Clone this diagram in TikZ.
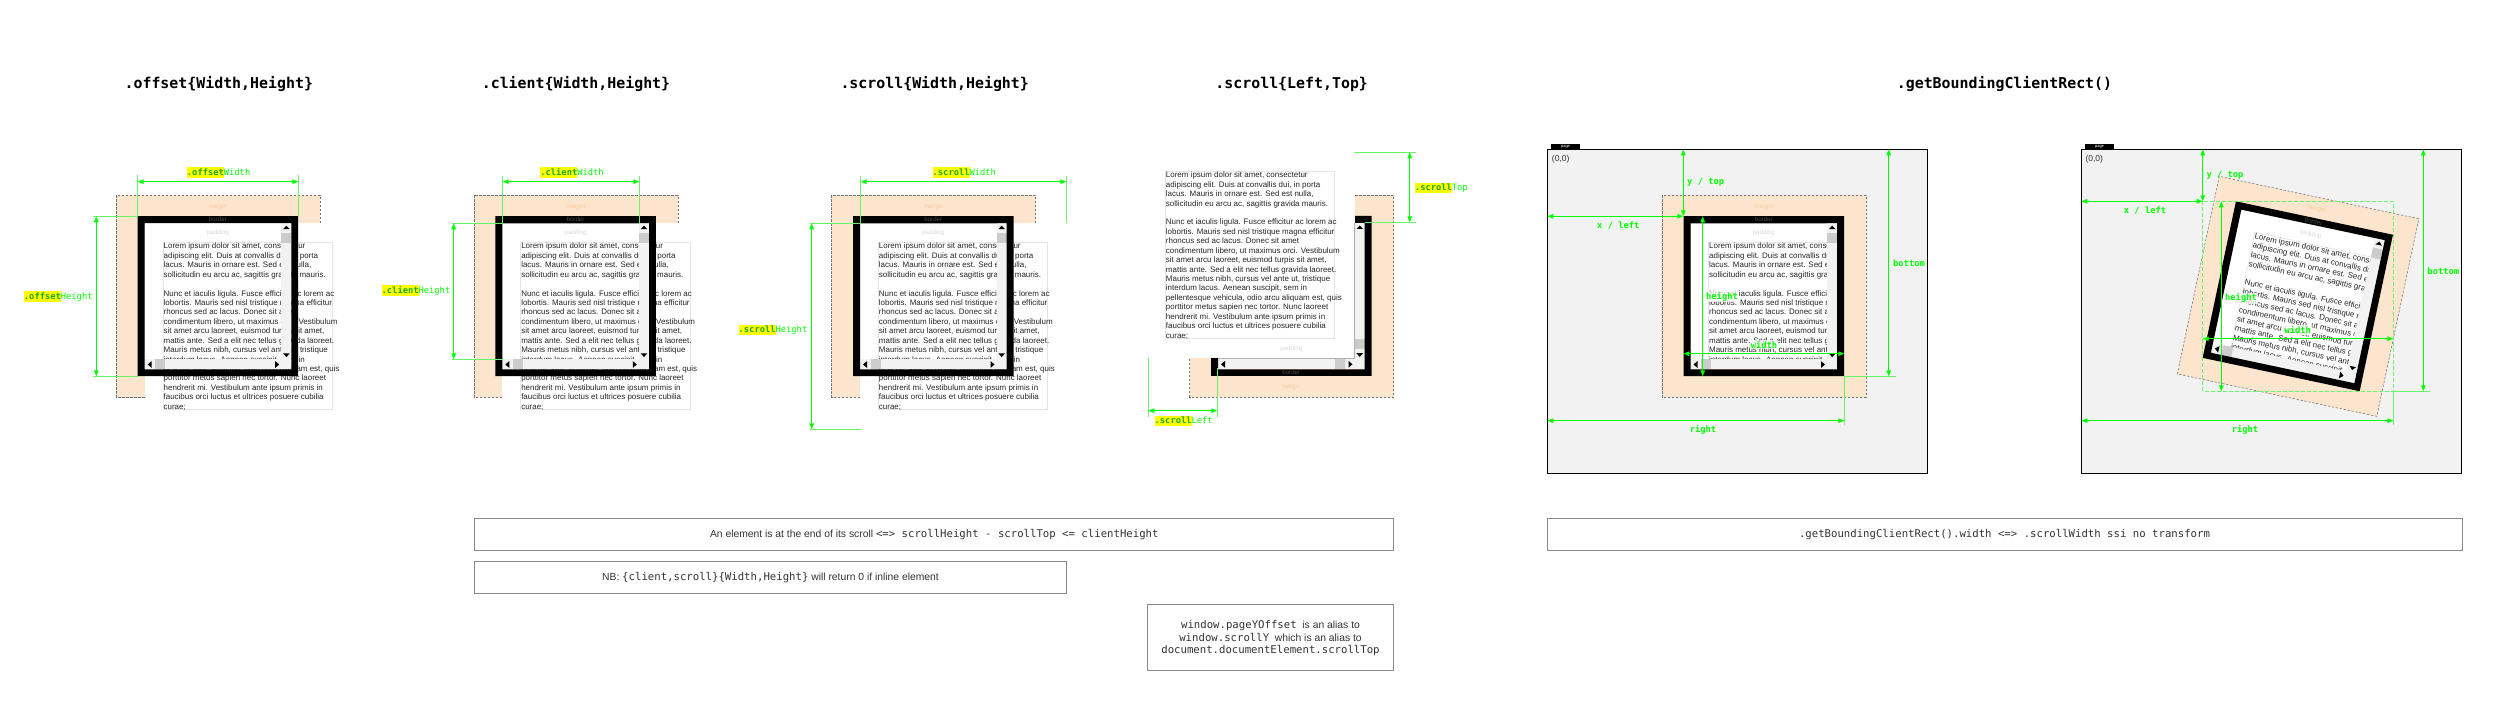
\documentclass[tikz,border=0pt]{standalone}
\usepackage{fontspec}
\setmainfont{Liberation Sans}
\newfontfamily\monof{DejaVu Sans Mono}
\usetikzlibrary{arrows.meta}
\definecolor{marginfill}{HTML}{FCE5CD}
\definecolor{marginlab}{HTML}{F9CB9C}
\definecolor{dimgreen}{HTML}{00FF00}
\definecolor{extgreen}{HTML}{66F566}
\definecolor{hlyellow}{HTML}{FFFF00}
\definecolor{hlgreen}{HTML}{1FA81F}
\definecolor{track}{HTML}{F2F2F2}
\definecolor{thumb}{HTML}{CCCCCC}
\definecolor{pagefill}{HTML}{F2F2F2}
\definecolor{notegray}{HTML}{888888}
\definecolor{ink}{HTML}{333333}
\setlength{\fboxsep}{0pt}
\tikzset{
  marginbox/.style={fill=marginfill,draw=black!55,line width=0.17pt,dash pattern=on 0.7pt off 0.5pt},
  textbox/.style={fill=white,draw=black!10,line width=0.2pt},
  lorem/.style={inner sep=0pt,align=left,text=black!85,font=\fontsize{2.39pt}{2.83pt}\selectfont},
  tinylab/.style={inner sep=0pt,font=\fontsize{1.85pt}{2.2pt}\selectfont},
  dimarrow/.style={draw=dimgreen,line width=0.3pt,{Triangle[length=1.8pt,width=1.35pt]}-{Triangle[length=1.8pt,width=1.35pt]}},
  dimext/.style={draw=extgreen,line width=0.22pt},
  titletext/.style={inner sep=0pt,font=\monof\bfseries\fontsize{4.47pt}{5pt}\selectfont},
  dimtext/.style={inner sep=0pt,anchor=west,text=dimgreen,font=\monof\fontsize{2.63pt}{3pt}\selectfont},
  boldtext/.style={inner sep=0.3pt,text=dimgreen,font=\monof\bfseries\fontsize{2.63pt}{3pt}\selectfont},
  halo/.style={boldtext,fill=white,fill opacity=0.75,text opacity=1},
  notebox/.style={draw=notegray,line width=0.3pt,fill=white},
  notetext/.style={inner sep=0pt,align=center,text=ink,font=\fontsize{3.1pt}{3.81pt}\selectfont},
  pagebox/.style={fill=pagefill,draw=black,line width=0.35pt},
  pagetab/.style={fill=black,inner sep=0pt,text=white,font=\fontsize{1.2pt}{1.4pt}\selectfont},
}
\newcommand{\nmono}[1]{{\monof\fontsize{3.2pt}{3.81pt}\selectfont #1}}
\newcommand{\loremtext}{Lorem ipsum dolor sit amet, consectetur\\
adipiscing elit. Duis at convallis dui, in porta\\
lacus. Mauris in ornare est. Sed est nulla,\\
sollicitudin eu arcu ac, sagittis gravida mauris.\\
\mbox{}\\
Nunc et iaculis ligula. Fusce efficitur ac lorem ac\\
lobortis. Mauris sed nisl tristique magna efficitur\\
rhoncus sed ac lacus. Donec sit amet\\
condimentum libero, ut maximus orci. Vestibulum\\
sit amet arcu laoreet, euismod turpis sit amet,\\
mattis ante. Sed a elit nec tellus gravida laoreet.\\
Mauris metus nibh, cursus vel ante ut, tristique\\
interdum lacus. Aenean suscipit, sem in\\
pellentesque vehicula, odio arcu aliquam est, quis\\
porttitor metus sapien nec tortor. Nunc laoreet\\
hendrerit mi. Vestibulum ante ipsum primis in\\
faucibus orci luctus et ultrices posuere cubilia\\
curae;}
% element parts, in coordinates local to the border box
\newcommand{\wMargin}{\path[marginbox] (-21.5,-21) rectangle (182.5,181);}
\newcommand{\wInside}{\fill[white] (7,7) rectangle (153.7,153.3);}
\newcommand{\wText}[3]{%
  \path[textbox] (#2,#3) rectangle ++(169.4,167);
  \node[lorem,anchor=north west] (#1-text) at (#2,#3) {\loremtext};}
\newcommand{\wBars}[2]{%
  \fill[track] (143.7,7) rectangle (153.7,143.3);
  \fill[track] (7,143.3) rectangle (153.7,153.3);
  \fill[thumb] (143.7,#1) rectangle ++(10,10);
  \fill[thumb] (#2,143.3) rectangle ++(10,10);
  \fill[black] (148.7,9.5) -- (152,13) -- (145.4,13) -- cycle;
  \fill[black] (148.7,140.9) -- (152,137.2) -- (145.4,137.2) -- cycle;
  \fill[black] (10,148.3) -- (14,144.9) -- (14,151.7) -- cycle;
  \fill[black] (141.5,148.3) -- (137.5,144.9) -- (137.5,151.7) -- cycle;}
\newcommand{\wRing}{\fill[black,even odd rule] (0,0) rectangle (160.5,160) (7,7) rectangle (153.7,153.3);}
\newcommand{\wLabels}[4]{%
  \node[tinylab,text=marginlab] (#1-marginlab) at (80.25,#2) {margin};
  \node[tinylab,text=black!70] (#1-borderlab) at (80.25,#3) {border};
  \node[tinylab,text=black!15] (#1-paddinglab) at (80.25,#4) {padding};}
% scrolled element whose overflow is shown
\newcommand{\wOpen}[4]{%
  \begin{scope}[shift={(#2,#3)}]
    \wMargin
    \fill[white] (7,7) rectangle (190,190);
    \wText{#1}{25.3}{26.3}
    \wBars{16.7}{17.7}
    \wRing
    \ifnum#4=1 \draw[black!35,line width=0.2pt] (7,7.2) -- (143.7,7.2);\fi
    \wLabels{#1}{-9.5}{3.6}{17}
  \end{scope}}
% element whose overflow is clipped
\newcommand{\wClosed}[1]{%
  \wMargin
  \wInside
  \begin{scope}
    \clip (7,7) rectangle (143.7,143.3);
    \wText{#1}{25}{26.3}
  \end{scope}
  \wBars{16.7}{17.7}
  \wRing
  \wLabels{#1}{-9.5}{3.6}{17}}
\newcommand{\dimline}[3]{\coordinate (#1a) at (#2); \coordinate (#1b) at (#3); \draw[dimarrow] (#1a) -- (#1b);}
\newcommand{\extline}[3]{\coordinate (#1a) at (#2); \coordinate (#1b) at (#3); \draw[dimext] (#1a) -- (#1b);}
\newcommand{\dimlab}[5]{\node[dimtext] (#1) at (#2,#3) {\colorbox{hlyellow}{\rule[-0.8pt]{0pt}{3.2pt}\textcolor{hlgreen}{\bfseries #4}}#5};}
\begin{document}
\begin{tikzpicture}[x=0.3pt,y=-0.3pt]
\useasboundingbox (0,0) rectangle (2500,712);
\fill[white] (0,0) rectangle (2500,712);
% titles
\node[titletext] (t1) at (218.8,84) {.offset\{Width,Height\}};
\node[titletext] (t2) at (576,84) {.client\{Width,Height\}};
\node[titletext] (t3) at (934.7,84) {.scroll\{Width,Height\}};
\node[titletext] (t4) at (1291.7,84) {.scroll\{Left,Top\}};
\node[titletext] (t5) at (2004.5,84) {.getBoundingClientRect()};
% offset
\wOpen{w1}{137.7}{216.2}{0}
\extline{o1}{137.7,175.3}{137.7,216.3}
\extline{o2}{298.3,175.3}{298.3,216.3}
\extline{o3}{93.3,216.3}{137.7,216.3}
\extline{o4}{93.3,376.3}{137.7,376.3}
\dimline{o5}{137.7,181.7}{298.3,181.7}
\dimline{o6}{96.3,216.3}{96.3,376.3}
\dimlab{l1}{186.3}{172.7}{.offset}{Width}
\dimlab{l2}{23.3}{296.7}{.offset}{Height}
% client
\wOpen{w2}{495.3}{216.2}{1}
\extline{c1}{502.7,175.7}{502.7,223.3}
\extline{c2}{639.3,175.7}{639.3,223.3}
\extline{c3}{451.7,223.3}{502.7,223.3}
\extline{c4}{451.7,359.3}{502.7,359.3}
\dimline{c5}{502.7,181.7}{639.3,181.7}
\dimline{c6}{453.7,223.3}{453.7,359.3}
\dimlab{l3}{539.7}{172.7}{.client}{Width}
\dimlab{l4}{381}{290.7}{.client}{Height}
% scroll size
\wOpen{w3}{853}{216.2}{1}
\extline{s1}{860.7,175.7}{860.7,223.3}
\extline{s2}{1066.3,175.7}{1066.3,223.3}
\extline{s3}{810,223.3}{860.7,223.3}
\extline{s4}{810,429.3}{860.7,429.3}
\dimline{s5}{860.7,181.7}{1066.3,181.7}
\dimline{s6}{811.7,223.3}{811.7,429.3}
\dimlab{l5}{932}{172.7}{.scroll}{Width}
\dimlab{l6}{738}{330}{.scroll}{Height}
% scroll position
\begin{scope}[shift={(1211,216)}]
  \wMargin
  \wInside
  \wBars{123.3}{124.3}
  \wRing
  \fill[white] (-51,-51) rectangle (143.7,142.4);
  \draw[black!30,line width=0.2pt] (7,142.7) -- (143.7,142.7) -- (143.7,7);
  \wText{w4}{-45.7}{-44.7}
  \wLabels{w4}{170.7}{156.3}{133}
\end{scope}
\extline{p1}{1354.3,152.3}{1415.7,152.3}
\extline{p2}{1364.7,222.3}{1415.7,222.3}
\extline{p3}{1148.3,358.3}{1148.3,416.7}
\extline{p4}{1217.3,368}{1217.3,416.7}
\dimline{p5}{1409.7,152.3}{1409.7,222.3}
\dimline{p6}{1148.3,410.7}{1217.3,410.7}
\dimlab{l7}{1414.3}{188}{.scroll}{Top}
\dimlab{l8}{1154}{421}{.scroll}{Left}
% bounding rect, no transform
\path[pagebox] (1547.3,149.3) rectangle (1927.3,473.3);
\node[pagetab,minimum width=8.7pt,minimum height=1.5pt] (tab1) at (1565.5,146.8) {page};
\node[inner sep=0pt,text=ink,font=\fontsize{2.55pt}{3pt}\selectfont] (o-a) at (1560.7,159.7) {(0,0)};
\begin{scope}[shift={(1683.5,216.2)}]
  \wClosed{w5}
  \draw[black!35,line width=0.2pt] (7,7.2) -- (143.7,7.2);
\end{scope}
\extline{b1}{1844.3,376.3}{1895.7,376.3}
\extline{b2}{1844.3,376.3}{1844.3,424.7}
\dimline{b3}{1683.3,149.3}{1683.3,216.3}
\dimline{b4}{1547.3,216.3}{1683.3,216.3}
\dimline{b5}{1702.7,216.3}{1702.7,376.3}
\dimline{b6}{1683.3,353.7}{1844.3,353.7}
\dimline{b7}{1888.7,149.3}{1888.7,376.3}
\dimline{b8}{1547.3,420.7}{1844.3,420.7}
\node[boldtext] (b-y) at (1705.7,182.7) {y / top};
\node[boldtext] (b-x) at (1618.3,226) {x / left};
\node[halo] (b-h) at (1722,296.7) {height};
\node[halo] (b-w) at (1764,344.7) {width};
\node[boldtext] (b-b) at (1909,263.3) {bottom};
\node[boldtext] (b-r) at (1703,430.3) {right};
% bounding rect, rotated
\path[pagebox] (2081.3,149.3) rectangle (2461.7,473.3);
\node[pagetab,minimum width=8.7pt,minimum height=1.5pt] (tab2) at (2099.5,146.8) {page};
\node[inner sep=0pt,text=ink,font=\fontsize{2.55pt}{3pt}\selectfont] (o-b) at (2094.3,159.7) {(0,0)};
\begin{scope}[shift={(2297.8,296.3)},rotate=-12,shift={(-80.25,-80)},transform shape]
  \wClosed{w6}
\end{scope}
\draw[extgreen,line width=0.22pt,dash pattern=on 1.2pt off 0.6pt] (2202.7,201.3) rectangle (2393.3,391.3);
\extline{r1}{2393.3,391.3}{2430,391.3}
\extline{r2}{2393.3,391.3}{2393.3,424.7}
\dimline{r3}{2202.7,149.3}{2202.7,201.3}
\dimline{r4}{2081.3,201.3}{2202.7,201.3}
\dimline{r5}{2221.3,201.3}{2221.3,391.3}
\dimline{r6}{2202.7,338.7}{2393.3,338.7}
\dimline{r7}{2423.3,149.3}{2423.3,391.3}
\dimline{r8}{2081.3,420.7}{2393.3,420.7}
\node[boldtext] (r-y) at (2225,175.7) {y / top};
\node[boldtext] (r-x) at (2145,211) {x / left};
\node[halo] (r-h) at (2241,298.3) {height};
\node[halo] (r-w) at (2297.7,330) {width};
\node[boldtext] (r-b) at (2443.3,271) {bottom};
\node[boldtext] (r-r) at (2245,430.3) {right};
% notes
\path[notebox] (474.7,518.3) rectangle (1393.9,550.7);
\node[notetext] (n1) at (934.3,534.5) {An element is at the end of its scroll \nmono{<=> scrollHeight - scrollTop <= clientHeight}};
\path[notebox] (474.7,561.3) rectangle (1066.2,593.3);
\node[notetext] (n2) at (770.5,577.3) {NB: \nmono{\{client,scroll\}\{Width,Height\}} will return 0 if inline element};
\path[notebox] (1147,604.3) rectangle (1393.9,670.3);
\node[notetext] (n3) at (1270.5,638.3) {\nmono{window.pageYOffset} \ is an alias to\\\nmono{window.scrollY} \ which is an alias to\\\nmono{document.documentElement.scrollTop}};
\path[notebox] (1547,518.3) rectangle (2462,550.7);
\node[notetext] (n4) at (2004.5,534.5) {\nmono{.getBoundingClientRect().width <=> .scrollWidth ssi no transform}};
\end{tikzpicture}
\end{document}
